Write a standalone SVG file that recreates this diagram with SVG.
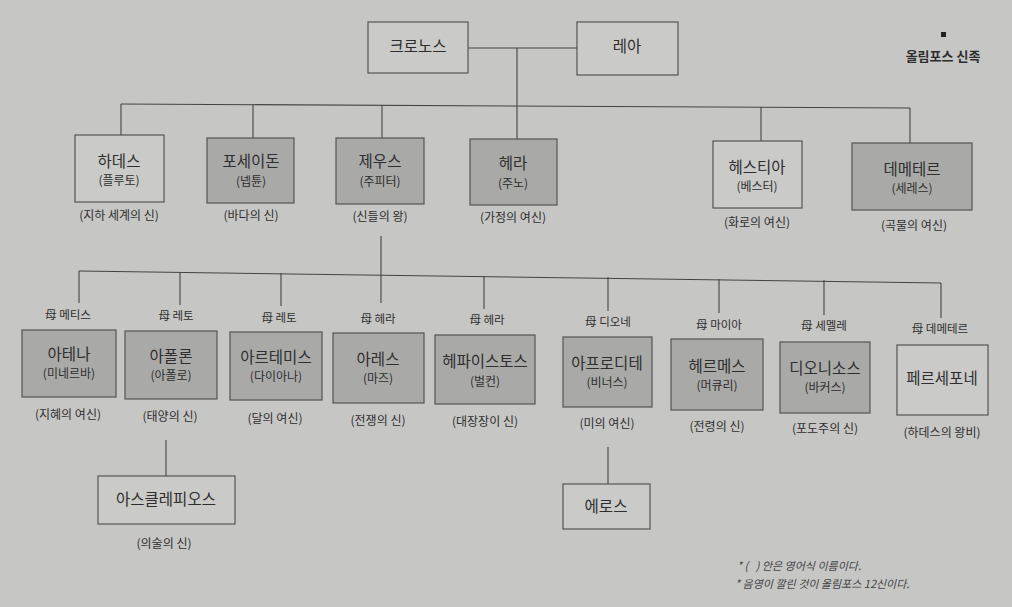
<svg xmlns="http://www.w3.org/2000/svg" width="1012" height="607" viewBox="0 0 1012 607">
<style>
text{font-family:"Noto Sans CJK KR","Noto Sans",sans-serif;fill:#2e2e2e;text-anchor:middle}
.w{fill:#cacac8;stroke:#555;stroke-width:1.2}
.s{fill:#a9a9a7;stroke:#555;stroke-width:1.2}
.n{font-size:15.5px}
.e{font-size:12px}
.c{font-size:12px}
.m{font-size:11.5px}
.note{font-size:11px;font-style:italic;text-anchor:start;fill:#444}
line,polyline{stroke:#444;stroke-width:1.1;fill:none}
</style>
<rect width="1012" height="607" fill="#c6c6c4"/>
<g id="connectors">
<line x1="468" y1="48" x2="577" y2="48"/>
<line x1="517" y1="48" x2="517" y2="139"/>
<line x1="121" y1="104" x2="910" y2="108"/>
<line x1="121" y1="104" x2="121" y2="135"/>
<line x1="253" y1="104" x2="253" y2="138"/>
<line x1="382" y1="105" x2="382" y2="138"/>
<line x1="761" y1="107" x2="761" y2="141"/>
<line x1="910" y1="108" x2="910" y2="143"/>
<line x1="381" y1="236" x2="381" y2="303"/>
<line x1="79" y1="271" x2="941" y2="283"/>
<line x1="79" y1="271" x2="79" y2="303"/>
<line x1="180" y1="272" x2="180" y2="305"/>
<line x1="281" y1="273" x2="281" y2="306"/>
<line x1="484" y1="276" x2="484" y2="309"/>
<line x1="608" y1="277" x2="608" y2="311"/>
<line x1="719" y1="279" x2="719" y2="313"/>
<line x1="824" y1="280" x2="824" y2="315"/>
<line x1="941" y1="283" x2="941" y2="318"/>
<line x1="166" y1="440" x2="166" y2="476"/>
<line x1="608" y1="447" x2="608" y2="484"/>
</g>
<g id="legend">
<rect x="941" y="32" width="5" height="5" fill="#222"/>
<text x="943" y="61" style="font-size:13px;font-weight:bold">올림포스 신족</text>
</g>
<g id="kronos"><rect class="w" x="368" y="22" width="100" height="51"/><text class="n" x="418" y="52">크로노스</text></g>
<g id="rhea"><rect class="w" x="577" y="22" width="101" height="53"/><text class="n" x="627" y="52">레아</text></g>

<g id="hades"><rect class="w" x="75" y="135" width="89" height="67"/><text class="n" x="119" y="167">하데스</text><text class="e" x="119" y="185">(플루토)</text><text class="c" x="119" y="220">(지하 세계의 신)</text></g>
<g id="poseidon"><rect class="s" x="207" y="138" width="87" height="65"/><text class="n" x="251" y="167">포세이돈</text><text class="e" x="251" y="186">(넵튠)</text><text class="c" x="251" y="220">(바다의 신)</text></g>
<g id="zeus"><rect class="s" x="336" y="138" width="88" height="66"/><text class="n" x="380" y="167">제우스</text><text class="e" x="380" y="186">(주피터)</text><text class="c" x="380" y="221">(신들의 왕)</text></g>
<g id="hera"><rect class="s" x="470" y="139" width="87" height="66"/><text class="n" x="513" y="169">헤라</text><text class="e" x="513" y="188">(주노)</text><text class="c" x="513" y="222">(가정의 여신)</text></g>
<g id="hestia"><rect class="w" x="713" y="141" width="89" height="67"/><text class="n" x="757" y="173">헤스티아</text><text class="e" x="757" y="191">(베스터)</text><text class="c" x="757" y="227">(화로의 여신)</text></g>
<g id="demeter"><rect class="s" x="852" y="143" width="120" height="67"/><text class="n" x="912" y="175">데메테르</text><text class="e" x="912" y="193">(세레스)</text><text class="c" x="914" y="230">(곡물의 여신)</text></g>

<g id="athena"><text class="m" x="68" y="319">母 메티스</text><rect class="s" x="22" y="330" width="94" height="67"/><text class="n" x="69" y="360">아테나</text><text class="e" x="69" y="378">(미네르바)</text><text class="c" x="68" y="419">(지혜의 여신)</text></g>
<g id="apollo"><text class="m" x="176" y="320">母 레토</text><rect class="s" x="125" y="331" width="92" height="68"/><text class="n" x="171" y="362">아폴론</text><text class="e" x="171" y="380">(아폴로)</text><text class="c" x="170" y="421">(태양의 신)</text></g>
<g id="artemis"><text class="m" x="279" y="322">母 레토</text><rect class="s" x="230" y="332" width="92" height="68"/><text class="n" x="276" y="363">아르테미스</text><text class="e" x="276" y="381">(다이아나)</text><text class="c" x="275" y="423">(달의 여신)</text></g>
<g id="ares"><text class="m" x="378" y="323">母 헤라</text><rect class="s" x="333" y="333" width="91" height="70"/><text class="n" x="378" y="365">아레스</text><text class="e" x="378" y="383">(마즈)</text><text class="c" x="378" y="425">(전쟁의 신)</text></g>
<g id="hephaestus"><text class="m" x="487" y="324">母 헤라</text><rect class="s" x="435" y="335" width="100" height="69"/><text class="n" x="485" y="367">헤파이스토스</text><text class="e" x="485" y="386">(벌컨)</text><text class="c" x="485" y="426">(대장장이 신)</text></g>
<g id="aphrodite"><text class="m" x="608" y="326">母 디오네</text><rect class="s" x="563" y="337" width="89" height="70"/><text class="n" x="607" y="369">아프로디테</text><text class="e" x="607" y="387">(비너스)</text><text class="c" x="607" y="428">(미의 여신)</text></g>
<g id="hermes"><text class="m" x="719" y="329">母 마이아</text><rect class="s" x="671" y="339" width="92" height="71"/><text class="n" x="717" y="372">헤르메스</text><text class="e" x="717" y="390">(머큐리)</text><text class="c" x="717" y="431">(전령의 신)</text></g>
<g id="dionysus"><text class="m" x="824" y="330">母 세멜레</text><rect class="s" x="780" y="342" width="90" height="71"/><text class="n" x="825" y="374">디오니소스</text><text class="e" x="825" y="392">(바커스)</text><text class="c" x="825" y="433">(포도주의 신)</text></g>
<g id="persephone"><text class="m" x="940" y="333">母 데메테르</text><rect class="w" x="897" y="345" width="91" height="70"/><text class="n" x="942" y="384">페르세포네</text><text class="c" x="942" y="437">(하데스의 왕비)</text></g>

<g id="asclepius"><rect class="w" x="98" y="476" width="137" height="48"/><text class="n" x="166" y="505">아스클레피오스</text><text class="c" x="164" y="548">(의술의 신)</text></g>
<g id="eros"><rect class="w" x="563" y="484" width="87" height="45"/><text class="n" x="606" y="512">에로스</text></g>

<g id="notes">
<text class="note" x="737" y="570">* (&#160;&#160;&#160;) 안은 영어식 이름이다.</text>
<text class="note" x="735" y="588">* 음영이 깔린 것이 올림포스 12신이다.</text>
</g>
</svg>
